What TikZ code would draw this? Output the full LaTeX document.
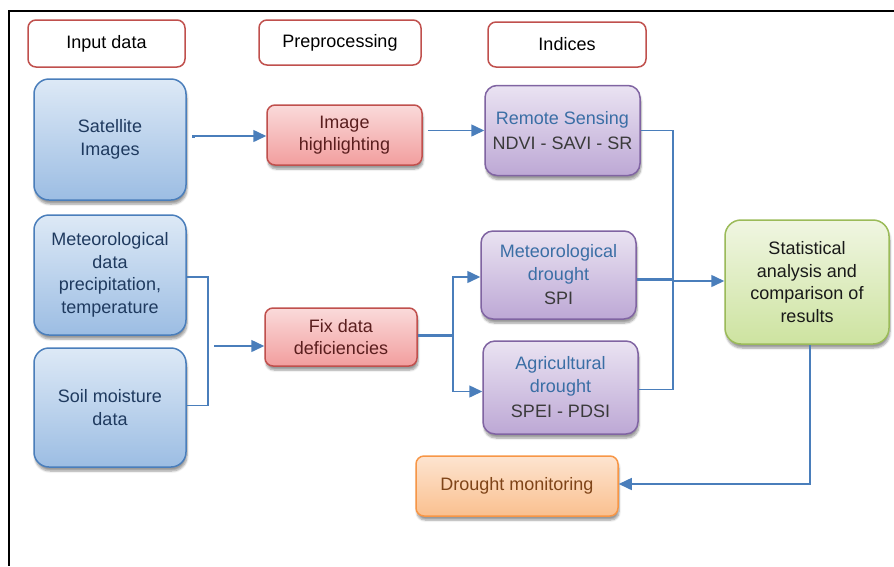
\documentclass[tikz,border=0pt]{standalone}
\usepackage{fontspec}
\setmainfont{Liberation Sans}
\usetikzlibrary{arrows.meta,shadows.blur}
\definecolor{lineblue}{HTML}{4A7EBB}
\definecolor{hdrred}{HTML}{C0504D}
\definecolor{blueB}{HTML}{4A7EBB}
\definecolor{blueT}{HTML}{DDE9F6}
\definecolor{blueBo}{HTML}{9CBDE3}
\definecolor{bluetext}{HTML}{1F3A5F}
\definecolor{redB}{HTML}{C0504D}
\definecolor{redT}{HTML}{FADADA}
\definecolor{redBo}{HTML}{F29E9E}
\definecolor{redtext}{HTML}{5A1E1E}
\definecolor{purB}{HTML}{8064A2}
\definecolor{purT}{HTML}{EAE3F2}
\definecolor{purBo}{HTML}{BDA8D5}
\definecolor{purtitle}{HTML}{3A6EA5}
\definecolor{purtext}{HTML}{3A3A3A}
\definecolor{grnB}{HTML}{9BBB59}
\definecolor{grnT}{HTML}{F0F6E2}
\definecolor{grnBo}{HTML}{CDE3A0}
\definecolor{orgB}{HTML}{F79646}
\definecolor{orgT}{HTML}{FDE4D0}
\definecolor{orgBo}{HTML}{FAC08F}
\definecolor{orgtext}{HTML}{7F4418}
\tikzset{
  box/.style={line width=1.5pt, align=center, inner sep=0pt,
    font=\fontsize{18}{22.5}\selectfont,
    blur shadow={shadow xshift=1pt, shadow yshift=-4pt, shadow opacity=40, shadow blur steps=6}},
  hdr/.style={draw=hdrred, fill=white, line width=1.5pt, rounded corners=8pt,
    align=center, inner sep=0pt, font=\fontsize{18}{22.5}\selectfont, text=black},
  bluebox/.style={box, rounded corners=15pt, draw=blueB, top color=blueT, bottom color=blueBo, text=bluetext},
  redbox/.style={box, rounded corners=8pt, draw=redB, top color=redT, bottom color=redBo, text=redtext},
  purbox/.style={box, rounded corners=12pt, draw=purB, top color=purT, bottom color=purBo, text=purtext},
  grnbox/.style={box, rounded corners=16pt, draw=grnB, top color=grnT, bottom color=grnBo, text=black!90},
  orgbox/.style={box, rounded corners=8pt, draw=orgB, top color=orgT, bottom color=orgBo, text=orgtext},
  conn/.style={draw=lineblue, line width=1.5pt},
  thickconn/.style={draw=lineblue, line width=3pt},
  arr/.style={conn, -{Triangle[length=13pt,width=12pt]}},
}
\begin{document}
\begin{tikzpicture}[x=1pt,y=-1pt]
\useasboundingbox (0,0) rectangle (894,566);
% frame
\draw[line width=2pt, black] (894,11) -- (9,11) -- (9,566);

% headers
\node[hdr, minimum width=157pt, minimum height=47pt] (h1) at (106.5,43.5) {Input data};
\node[hdr, minimum width=162pt, minimum height=45pt] (h2) at (340,42.5) {Preprocessing};
\node[hdr, minimum width=158pt, minimum height=45pt] (h3) at (567,44.5) {Indices};

% input boxes
\node[bluebox, minimum width=152pt, minimum height=121pt] (sat) at (110,139.5) {Satellite\\Images};
\node[bluebox, minimum width=152pt, minimum height=120pt] (metd) at (110,275) {Meteorological\\data\\precipitation,\\temperature};
\node[bluebox, minimum width=152pt, minimum height=119pt] (soil) at (110,407.5) {Soil moisture\\data};

% preprocessing
\node[redbox, minimum width=155pt, minimum height=60pt] (img) at (344.5,135) {Image\\highlighting};
\node[redbox, minimum width=152pt, minimum height=58pt] (fix) at (341,337) {Fix data\\deficiencies};

% indices
\node[purbox, minimum width=155pt, minimum height=90pt] (rs) at (562.5,130.5)
  {\textcolor{purtitle}{Remote Sensing}\\[3pt]NDVI - SAVI - SR};
\node[purbox, minimum width=155pt, minimum height=88pt] (met) at (558.5,275)
  {\textcolor{purtitle}{Meteorological}\\\textcolor{purtitle}{drought}\\[2pt]SPI};
\node[purbox, minimum width=155pt, minimum height=93pt] (agri) at (560.5,387.5)
  {\textcolor{purtitle}{Agricultural}\\\textcolor{purtitle}{drought}\\[3pt]SPEI - PDSI};

% results
\node[grnbox, minimum width=164pt, minimum height=124pt] (stat) at (807,282)
  {Statistical\\analysis and\\comparison of\\results};
\node[orgbox, minimum width=202pt, minimum height=60pt] (mon) at (517,486) {Drought monitoring};

% junction coordinates
\coordinate (brk) at (208,300);
\coordinate (bin) at (214,346);
\coordinate (spl) at (453,335);
\coordinate (jn) at (673,281);
\coordinate (sst) at (193,136);

% connectors
\fill[lineblue] ([xshift=-1.5pt,yshift=-1.5pt]sst) rectangle ([xshift=1.5pt,yshift=1.5pt]sst);
\draw[arr] (sst) -- (sst -| img.west);
\draw[arr] ([xshift=5pt]rs.west -| img.east) -- (rs.west);

\draw[conn] ([yshift=-2pt]metd.east) -- ([yshift=-2pt]metd.east -| brk) -- ([yshift=2pt]soil.east -| brk) -- ([yshift=2pt]soil.east);
\draw[arr] (bin) -- (bin -| fix.west);

\draw[thickconn] (spl -| fix.east) -- (spl);
\draw[arr] (spl) |- ([yshift=-2pt]met.west);
\draw[arr] (spl) |- ([yshift=-4pt]agri.west);

\draw[conn] (rs.east) -| (jn) |- ([yshift=-2pt]agri.east);
\draw[thickconn] ([yshift=-4pt]met.east) -- ([yshift=-4pt]met.east -| jn);
\draw[arr] (jn) -- (jn -| stat.west);

\draw[arr] ([xshift=3pt]stat.south) |- ([yshift=2pt]mon.east);
\end{tikzpicture}
\end{document}
